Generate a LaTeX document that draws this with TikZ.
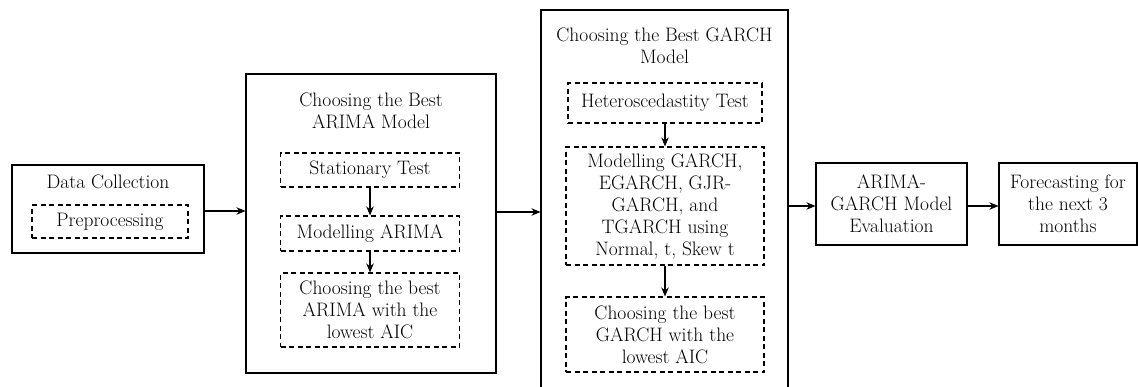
\documentclass[tikz,border=0pt]{standalone}
\usepackage{fontspec}
\usetikzlibrary{arrows.meta}
\begin{document}
\begin{tikzpicture}[
  x=1pt, y=-1pt,
  box/.style={rectangle, draw, line width=1.1pt, inner sep=0pt, align=center, font=\fontsize{19.5}{22}\selectfont},
  dbox/.style={box, dash pattern=on 5pt off 3.5pt},
  title/.style={inner sep=0pt, align=center, font=\fontsize{19.5}{22}\selectfont},
  arrow/.style={-{Stealth[length=9pt,width=7.5pt]}, line width=1.1pt}
]
\useasboundingbox (0,0) rectangle (1138,386);

% Nodes
\node[box, minimum width=192pt, minimum height=88pt] (data) at (108,209) {};
\node[title] (datatitle) at (108,182) {Data Collection};
\node[dbox, minimum width=156pt, minimum height=33pt] (prep) at (110,221.5) {Preprocessing};

\node[box, minimum width=250pt, minimum height=299pt] (arima) at (371,223.5) {};
\node[title] (arimatitle) at (371,111) {Choosing the Best\\ARIMA Model};
\node[dbox, minimum width=179pt, minimum height=34pt] (stat) at (370,170) {Stationary Test};
\node[dbox, minimum width=179pt, minimum height=35pt] (modarima) at (370,233.5) {Modelling ARIMA};
\node[dbox, minimum width=179pt, minimum height=74pt] (bestarima) at (370,310) {Choosing the best\\ARIMA with the\\lowest AIC};

\node[box, minimum width=247pt, minimum height=390pt] (garch) at (664.5,205) {};
\node[title] (garchtitle) at (664.5,46) {Choosing the Best GARCH\\Model};
\node[dbox, minimum width=194pt, minimum height=40pt] (hetero) at (665,103) {Heteroscedastity Test};
\node[dbox, minimum width=198pt, minimum height=118pt] (modgarch) at (665,206) {Modelling GARCH,\\EGARCH, GJR-\\GARCH, and\\TGARCH using\\Normal, t, Skew t};
\node[dbox, minimum width=198pt, minimum height=75pt] (bestgarch) at (665,334.5) {Choosing the best\\GARCH with the\\lowest AIC};

\node[box, minimum width=151pt, minimum height=82pt] (eval) at (891.5,204) {ARIMA-\\GARCH Model\\Evaluation};
\node[box, minimum width=138pt, minimum height=82pt] (forecast) at (1068,204) {Forecasting for\\the next 3\\months};

% Arrows
\draw[arrow] (data.east |- 0,211) -- (arima.west |- 0,211);
\draw[arrow] (stat) -- (modarima);
\draw[arrow] (modarima) -- (bestarima);
\draw[arrow] (arima.east |- 0,212) -- (garch.west |- 0,212);
\draw[arrow] (hetero) -- (modgarch);
\draw[arrow] (modgarch) -- (bestgarch);
\draw[arrow] (garch.east |- 0,206) -- (eval.west |- 0,206);
\draw[arrow] (eval.east |- 0,206) -- (forecast.west |- 0,206);

\end{tikzpicture}
\end{document}
